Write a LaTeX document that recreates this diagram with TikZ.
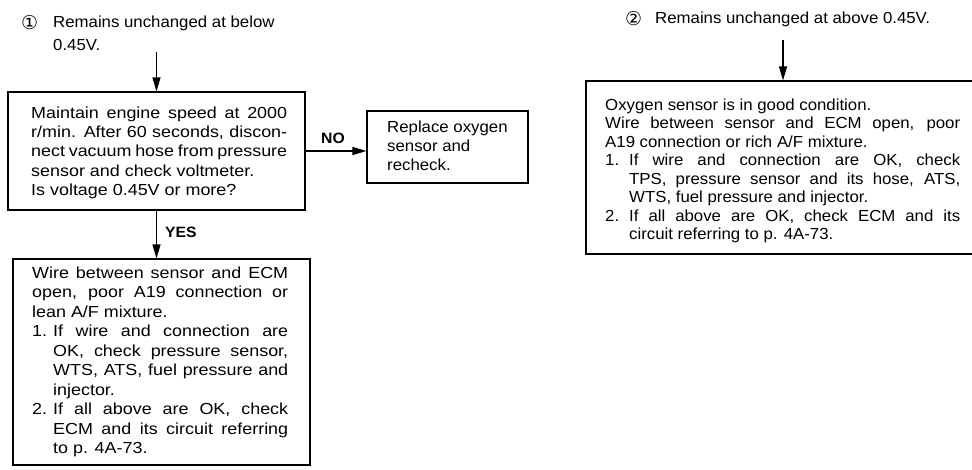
\documentclass[tikz,border=0pt]{standalone}
\usepackage{fontspec}
\setmainfont{Liberation Sans}
\newfontfamily\fA{Liberation Sans}[FakeStretch=1.12]
\newfontfamily\fB{Liberation Sans}[FakeStretch=1.05]
\newfontfamily\fsym{DejaVu Sans}
\usetikzlibrary{arrows.meta}
\newcommand\jl[2]{\makebox[#1][s]{#2}}
\newcommand\firstrule{\rule{0pt}{12pt}}
\tikzset{
  boxst/.style={draw, line width=1.1pt, inner sep=0pt},
  txtA/.style={anchor=north west, inner sep=0pt, align=left, font=\fA\fontsize{16}{19.3}\selectfont},
  txtB/.style={anchor=north west, inner sep=0pt, align=left, font=\fB\fontsize{16}{18.5}\selectfont},
  arr/.style={line width=1.1pt, -{Triangle[length=14pt,width=8pt]}},
  lbl/.style={inner sep=0pt, font=\fB\bfseries\fontsize{15}{15}\selectfont}
}
\begin{document}
\begin{tikzpicture}[x=1pt,y=-1pt]
\useasboundingbox (0,0) rectangle (972,469);
% top texts
\node[txtB, font=\fB\fontsize{16}{23}\selectfont] (t1) at (21,15)
  {\firstrule\makebox[32pt][l]{\raisebox{-2pt}{\fsym\fontsize{19}{19}\selectfont ①}}Remains unchanged at below\\\hspace*{32pt}0.45V.};
\node[txtB] (t2) at (625,11)
  {\firstrule\makebox[30pt][l]{\raisebox{-2pt}{\fsym\fontsize{19}{19}\selectfont ②}}Remains unchanged at above 0.45V.};
% boxes
\node[boxst, minimum width=297pt, minimum height=118pt] (box1) at (156.5,151) {};
\node[boxst, minimum width=161pt, minimum height=72pt] (box2) at (447.5,147) {};
\node[boxst, minimum width=297pt, minimum height=206pt] (box3) at (161.5,362) {};
\node[boxst, minimum width=394pt, minimum height=173pt] (box4) at (783,167.5) {};
% box texts
\node[txtA] (x1) at (31,106) {\firstrule\jl{256pt}{Maintain engine speed at 2000}\\
\jl{256pt}{r/min. After 60 seconds, discon-}\\
\jl{256pt}{nect vacuum hose from pressure}\\
sensor and check voltmeter.\\
Is voltage 0.45V or more?};
\node[txtB, font=\fB\fontsize{16}{19}\selectfont] (x2) at (387,120) {\firstrule Replace oxygen\\sensor and\\recheck.};
\node[txtA, font=\fA\fontsize{16}{19.5}\selectfont] (x3) at (32,266) {\firstrule\jl{256pt}{Wire between sensor and ECM}\\
\jl{256pt}{open, poor A19 connection or}\\
lean A/F mixture.\\
\makebox[21pt][l]{1.}\jl{235pt}{If wire and connection are}\\
\hspace*{21pt}\jl{235pt}{OK, check pressure sensor,}\\
\hspace*{21pt}\jl{235pt}{WTS, ATS, fuel pressure and}\\
\hspace*{21pt}injector.\\
\makebox[21pt][l]{2.}\jl{235pt}{If all above are OK, check}\\
\hspace*{21pt}\jl{235pt}{ECM and its circuit referring}\\
\hspace*{21pt}to p. 4A-73.};
\node[txtB] (x4) at (605,98) {\firstrule Oxygen sensor is in good condition.\\
\jl{355pt}{Wire between sensor and ECM open, poor}\\
A19 connection or rich A/F mixture.\\
\makebox[24pt][l]{1.}\jl{331pt}{If wire and connection are OK, check}\\
\hspace*{24pt}\jl{331pt}{TPS, pressure sensor and its hose, ATS,}\\
\hspace*{24pt}WTS, fuel pressure and injector.\\
\makebox[24pt][l]{2.}\jl{331pt}{If all above are OK, check ECM and its}\\
\hspace*{24pt}circuit referring to p. 4A-73.};
% connectors
\coordinate (s1) at (156.5,52);
\coordinate (s2) at (783,40);
\draw[arr] (s1) -- (box1.north);
\draw[arr] (box1.south) -- (box1.south |- box3.north);
\draw[arr] (box1.east) -- (box1.east -| box2.west);
\draw[arr] (s2) -- (box4.north);
\node[lbl] (no) at (333,138) {NO};
\node[lbl, anchor=west] (yes) at (165,232) {YES};
\end{tikzpicture}
\end{document}
